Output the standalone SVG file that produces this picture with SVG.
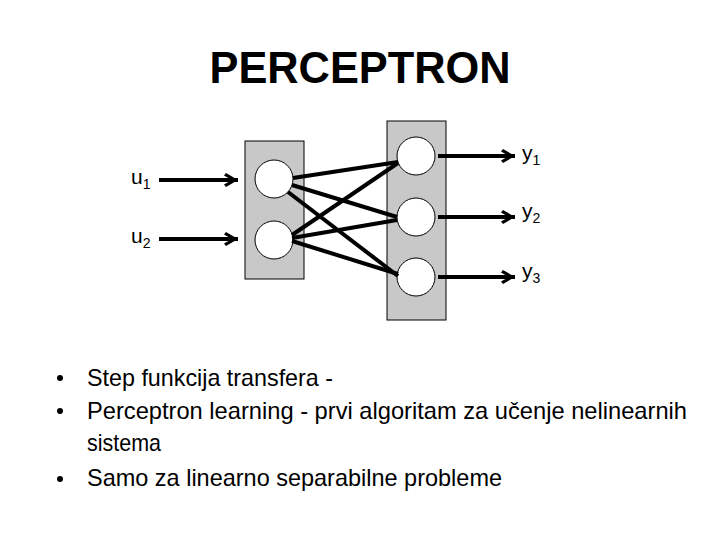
<svg xmlns="http://www.w3.org/2000/svg" width="720" height="540" viewBox="0 0 720 540">
<style>
.t{font-family:"Liberation Sans",Arial,sans-serif;fill:#000}
.layer{fill:#c8c8c8;stroke:#000;stroke-width:1}
.neuron{fill:#fff;stroke:#000;stroke-width:1}
.w{stroke:#000;stroke-width:4;fill:none;stroke-linecap:butt}
.io{stroke:#000;stroke-width:4;fill:none}
.lbl{font-size:21px}
.sub{font-size:14px}
.b{font-size:24px}
</style>
<defs>
<marker id="ah" markerUnits="userSpaceOnUse" markerWidth="20" markerHeight="20" refX="15" refY="8" orient="auto" viewBox="0 0 20 16">
<path d="M15,8 L3,1 L1,3.5 L9,8 L1,12.5 L3,15 Z" fill="#000"/>
</marker>
</defs>
<rect width="720" height="540" fill="#fff"/>
<text class="t" x="360" y="83" font-size="44" font-weight="bold" text-anchor="middle" textLength="301" lengthAdjust="spacingAndGlyphs">PERCEPTRON</text>
<g id="input-layer">
<rect class="layer" x="245" y="141" width="59" height="138"/>
<circle id="in1" class="neuron" cx="274" cy="179" r="19"/>
<circle id="in2" class="neuron" cx="274" cy="240" r="19"/>
</g>
<g id="output-layer">
<rect class="layer" x="387" y="121" width="59" height="199"/>
<circle id="out1" class="neuron" cx="416" cy="156" r="19"/>
<circle id="out2" class="neuron" cx="416" cy="217" r="19"/>
<circle id="out3" class="neuron" cx="416" cy="277" r="19"/>
</g>
<g id="connectors">
<line class="w" x1="293" y1="178" x2="398" y2="162"/>
<line class="w" x1="292" y1="185" x2="397" y2="217"/>
<line class="w" x1="288" y1="192" x2="398" y2="276"/>
<line class="w" x1="292" y1="235" x2="398" y2="163"/>
<line class="w" x1="292" y1="238" x2="397" y2="220"/>
<line class="w" x1="292" y1="241" x2="398" y2="274"/>
<line class="io" x1="159" y1="180" x2="238" y2="180" marker-end="url(#ah)"/>
<line class="io" x1="159" y1="239" x2="238" y2="239" marker-end="url(#ah)"/>
<line class="io" x1="438" y1="156" x2="515" y2="156" marker-end="url(#ah)"/>
<line class="io" x1="438" y1="217" x2="515" y2="217" marker-end="url(#ah)"/>
<line class="io" x1="438" y1="277" x2="515" y2="277" marker-end="url(#ah)"/>
</g>
<g id="labels">
<text class="t lbl" x="131" y="184">u<tspan class="sub" dy="5">1</tspan></text>
<text class="t lbl" x="131" y="243">u<tspan class="sub" dy="5">2</tspan></text>
<text class="t lbl" x="522" y="160">y<tspan class="sub" dy="5">1</tspan></text>
<text class="t lbl" x="522" y="218">y<tspan class="sub" dy="5">2</tspan></text>
<text class="t lbl" x="522" y="278">y<tspan class="sub" dy="5">3</tspan></text>
</g>
<g id="bullets">
<circle cx="60" cy="378" r="3"/>
<circle cx="60" cy="411" r="3"/>
<circle cx="60" cy="479" r="3"/>
<text class="t b" x="87" y="386" textLength="246" lengthAdjust="spacingAndGlyphs">Step funkcija transfera -</text>
<text class="t b" x="87" y="419" textLength="600" lengthAdjust="spacingAndGlyphs">Perceptron learning - prvi algoritam za učenje nelinearnih</text>
<text class="t b" x="87" y="451" textLength="74" lengthAdjust="spacingAndGlyphs">sistema</text>
<text class="t b" x="87" y="486" textLength="415" lengthAdjust="spacingAndGlyphs">Samo za linearno separabilne probleme</text>
</g>
</svg>
